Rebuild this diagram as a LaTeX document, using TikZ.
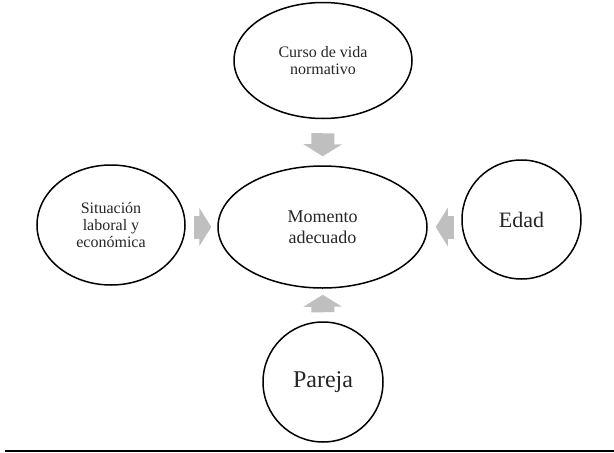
\documentclass[tikz,border=0pt]{standalone}
\usepackage{fontspec}
\setmainfont{Liberation Serif}
\usepackage{tikz}
\usetikzlibrary{shapes.geometric,arrows.meta}

\tikzset{
    bubble/.style={draw,ellipse,line width=1.5pt,text=black!85,align=center,inner sep=0pt},
    ring/.style={draw,circle,line width=1.5pt,text=black!85,align=center,inner sep=0pt},
    blockarrow/.style={draw=black!25,line width=23pt,-{Triangle[width=38pt,length=12pt,fill=black!25]}}
}

\begin{document}
\begin{tikzpicture}[x=1pt,y=-1pt]
    \useasboundingbox[fill=white] (0,0) rectangle (614,453);

    \node[bubble,minimum width=178pt,minimum height=116pt,font=\fontsize{16}{17}\selectfont] (curso) at (323,60.5) {Curso de vida\\normativo};
    \node[bubble,minimum width=209pt,minimum height=122pt,font=\fontsize{18}{21}\selectfont] (momento) at (322.5,227) {Momento\\adecuado};
    \node[bubble,minimum width=148pt,minimum height=120pt,font=\fontsize{16}{17}\selectfont] (situacion) at (111,225) {Situación\\laboral y\\económica};
    \node[ring,minimum size=119pt,font=\fontsize{22}{24}\selectfont] (edad) at (521.5,219.5) {Edad};
    \node[ring,minimum size=120pt,font=\fontsize{24}{26}\selectfont] (pareja) at (323,382) {Pareja};

    \draw[blockarrow,shorten <=14pt,shorten >=9pt] (curso) -- (momento);
    \draw[blockarrow,shorten <=8pt,shorten >=6pt] (situacion.east |- momento) -- (momento.west);
    \draw[blockarrow,shorten <=7pt,shorten >=8pt] (edad.west |- momento) -- (momento.east);
    \draw[blockarrow,shorten <=9pt,shorten >=6pt] (pareja) -- (momento);

    \draw[line width=1.5pt] (5,451) -- (614,451);
\end{tikzpicture}
\end{document}
